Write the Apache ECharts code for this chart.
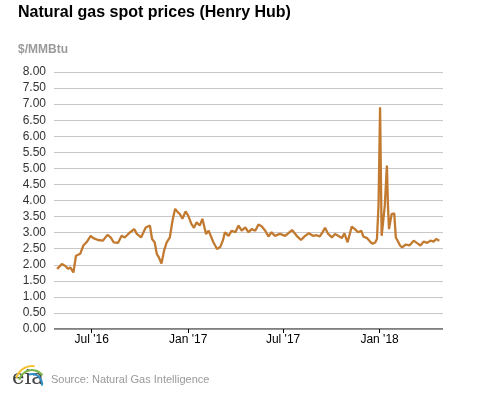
<!DOCTYPE html>
<html><head><meta charset="utf-8">
<script src="https://cdn.jsdelivr.net/npm/echarts@6/dist/echarts.min.js"></script>
<style>html,body{margin:0;padding:0;background:#fff}#c{width:477px;height:393px}</style>
</head><body><div id="c"></div>
<script>
const dates = ["2016-04-26","2016-05-05","2016-05-11","2016-05-17","2016-05-21","2016-05-27","2016-06-01","2016-06-09","2016-06-15","2016-06-21","2016-06-29","2016-07-04","2016-07-13","2016-07-22","2016-07-31","2016-08-06","2016-08-12","2016-08-20","2016-08-27","2016-09-02","2016-09-10","2016-09-20","2016-09-25","2016-10-03","2016-10-12","2016-10-20","2016-10-24","2016-10-29","2016-11-02","2016-11-06","2016-11-11","2016-11-16","2016-11-21","2016-11-27","2016-12-02","2016-12-07","2016-12-12","2016-12-16","2016-12-21","2016-12-27","2017-01-01","2017-01-07","2017-01-12","2017-01-17","2017-01-23","2017-01-28","2017-02-04","2017-02-09","2017-02-13","2017-02-18","2017-02-25","2017-03-03","2017-03-08","2017-03-12","2017-03-19","2017-03-25","2017-04-01","2017-04-07","2017-04-13","2017-04-20","2017-04-26","2017-05-02","2017-05-09","2017-05-15","2017-05-21","2017-05-28","2017-06-03","2017-06-09","2017-06-15","2017-06-25","2017-07-05","2017-07-18","2017-07-27","2017-08-04","2017-08-12","2017-08-19","2017-08-27","2017-09-03","2017-09-09","2017-09-14","2017-09-19","2017-09-25","2017-10-02","2017-10-08","2017-10-14","2017-10-21","2017-10-26","2017-11-01","2017-11-09","2017-11-15","2017-11-21","2017-11-27","2017-12-01","2017-12-08","2017-12-15","2017-12-19","2017-12-24","2017-12-27","2017-12-30","2018-01-02","2018-01-04","2018-01-05","2018-01-08","2018-01-11","2018-01-15","2018-01-17","2018-01-19","2018-01-24","2018-01-29","2018-02-01","2018-02-06","2018-02-09","2018-02-13","2018-02-16","2018-02-20","2018-02-27","2018-03-07","2018-03-13","2018-03-20","2018-03-26","2018-04-02","2018-04-08","2018-04-14","2018-04-19","2018-04-25"];
const prices = [1.87,2.02,1.97,1.87,1.92,1.76,2.28,2.34,2.60,2.70,2.90,2.83,2.77,2.75,2.93,2.85,2.70,2.68,2.90,2.85,2.98,3.11,2.96,2.85,3.16,3.22,2.80,2.70,2.34,2.23,2.04,2.44,2.70,2.85,3.37,3.74,3.64,3.58,3.43,3.66,3.53,3.27,3.15,3.32,3.22,3.43,2.96,3.06,2.90,2.70,2.49,2.55,2.75,3.01,2.90,3.06,3.01,3.22,3.06,3.16,3.01,3.11,3.06,3.25,3.20,3.06,2.88,3.01,2.90,2.96,2.90,3.08,2.90,2.77,2.90,2.98,2.90,2.92,2.88,3.01,3.15,2.96,2.85,2.96,2.90,2.83,2.98,2.70,3.19,3.11,3.01,3.06,2.88,2.83,2.70,2.65,2.70,2.80,3.84,6.90,4.15,2.90,2.85,3.84,5.09,3.84,3.11,3.58,3.60,2.85,2.70,2.60,2.54,2.49,2.63,2.60,2.75,2.68,2.60,2.72,2.68,2.75,2.72,2.80,2.75];
const yTicks = [0,0.5,1,1.5,2,2.5,3,3.5,4,4.5,5,5.5,6,6.5,7,7.5,8];
const xRange = ["2016-04-20","2018-05-02"];
const monthNames = ["Jan","Feb","Mar","Apr","May","Jun","Jul","Aug","Sep","Oct","Nov","Dec"];

const chart = echarts.init(document.getElementById('c'), null, {renderer:'canvas'});
chart.setOption({
  animation:false,
  title:[
    {text:'Natural gas spot prices (Henry Hub)', left:18, top:5, padding:0, textStyle:{fontFamily:'Liberation Sans, Arial', fontSize:16, fontWeight:'bold', color:'#000'}},
    {text:'$/MMBtu', left:18, top:44, padding:0, textStyle:{fontFamily:'Liberation Sans, Arial', fontSize:12, fontWeight:'bold', color:'#9a9a9a'}},
    {text:'Source: Natural Gas Intelligence', left:51, top:374, padding:0, textStyle:{fontFamily:'Liberation Sans, Arial', fontSize:11, fontWeight:'normal', color:'#999'}}
  ],
  graphic:[
    {type:'text', left:12, top:368, style:{text:'eia', font:'21px "DejaVu Serif", serif', fill:'#444'}},
    {type:'arc', shape:{cx:32, cy:382, r:16, startAngle:-Math.PI*0.92, endAngle:-Math.PI*0.45}, style:{stroke:'#f2c230', lineWidth:2, fill:null}},
    {type:'arc', shape:{cx:32, cy:383, r:13, startAngle:-Math.PI*0.92, endAngle:-Math.PI*0.2}, style:{stroke:'#7ab648', lineWidth:2, fill:null}},
    {type:'arc', shape:{cx:32, cy:384, r:10, startAngle:-Math.PI*0.6, endAngle:Math.PI*0.05}, style:{stroke:'#2e8fc7', lineWidth:2, fill:null}}
  ],
  grid:{left:54, right:34, top:72, bottom:64},
  xAxis:{
    type:'time', min:xRange[0], max:xRange[1],
    minInterval:182*86400000, maxInterval:184*86400000,
    axisLine:{show:false},
    axisTick:{show:true, length:4, lineStyle:{color:'#000'}},
    axisLabel:{fontFamily:'Liberation Sans, Arial', fontSize:12, color:'#000', margin:5,
      formatter:function(v){const d=new Date(v); return monthNames[d.getMonth()]+" '"+String(d.getFullYear()).slice(2);}},
    splitLine:{show:false}
  },
  yAxis:{
    type:'value', min:yTicks[0], max:yTicks[yTicks.length-1], interval:0.5,
    axisLine:{show:false}, axisTick:{show:false},
    axisLabel:{fontFamily:'Liberation Sans, Arial', fontSize:12, color:'#333', margin:8, formatter:function(v){return v.toFixed(2);}},
    splitLine:{lineStyle:{color:'#c8c8c8', width:1}}
  },
  series:[
    {type:'line', data:dates.map((d,i)=>[d,prices[i]]), showSymbol:false, lineStyle:{color:'#c27a30', width:2.3}, z:3},
    {type:'line', data:[[xRange[0],0],[xRange[1],0]], showSymbol:false, lineStyle:{color:'#000', width:1}, silent:true, z:2}
  ]
});
</script></body></html>
